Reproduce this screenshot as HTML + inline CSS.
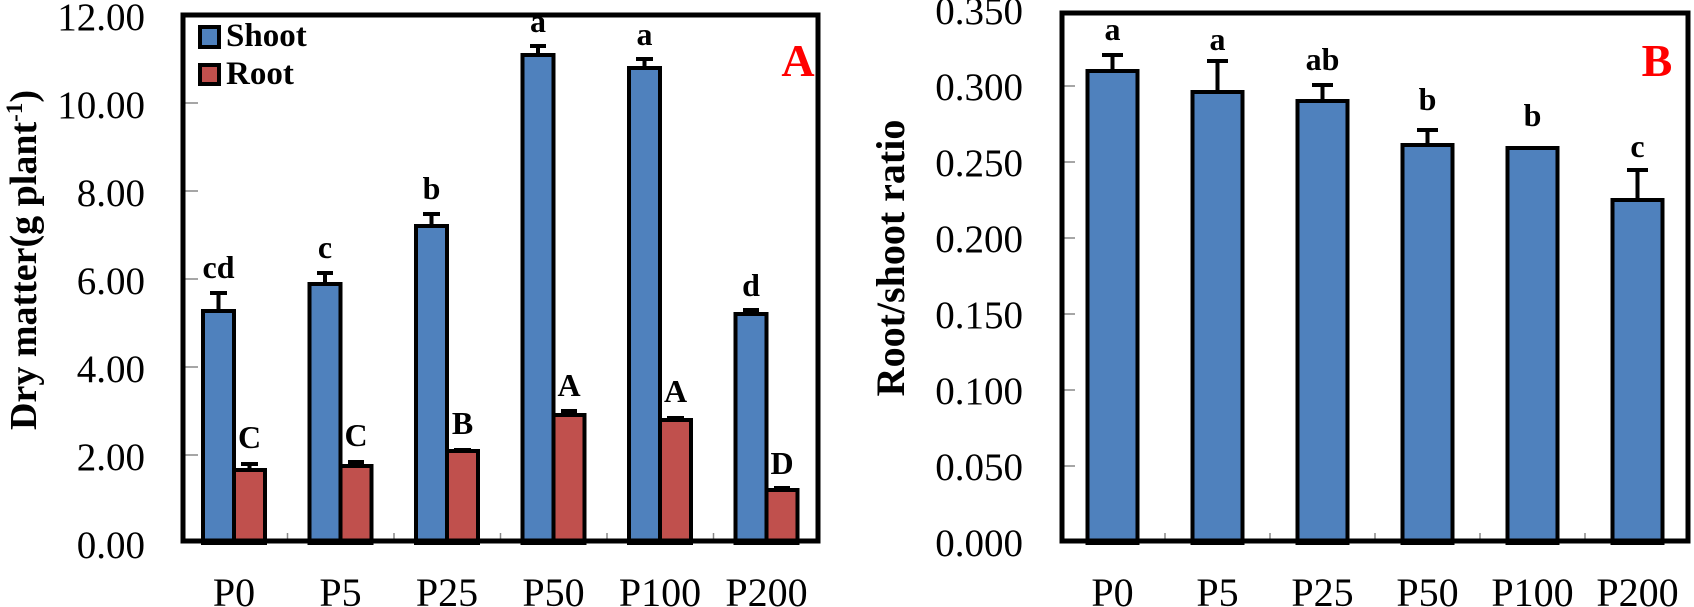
<!DOCTYPE html>
<html><head><meta charset="utf-8"><style>body{margin:0;background:#fff}svg{display:block}</style></head>
<body>
<svg width="1694" height="607" xmlns="http://www.w3.org/2000/svg" font-family="Liberation Serif, serif">
<rect width="1694" height="607" fill="#fff"/>
<g id="A">
<g font-size="39" text-anchor="end">
<text x="145" y="558">0.00</text><text x="145" y="470">2.00</text><text x="145" y="382">4.00</text>
<text x="145" y="294">6.00</text><text x="145" y="206">8.00</text><text x="145" y="118">10.00</text><text x="145" y="30">12.00</text>
</g>
<text transform="translate(36,260) rotate(-90)" text-anchor="middle" font-size="38" font-weight="bold">Dry matter(g plant<tspan dy="-14" font-size="23">-1</tspan><tspan dy="14">)</tspan></text>
<g stroke="#888" stroke-width="1.5">
<line x1="183" y1="455" x2="198" y2="455"/><line x1="183" y1="367" x2="198" y2="367"/><line x1="183" y1="279" x2="198" y2="279"/><line x1="183" y1="191" x2="198" y2="191"/><line x1="183" y1="103" x2="198" y2="103"/>
<line x1="287.5" y1="543" x2="287.5" y2="533"/><line x1="394" y1="543" x2="394" y2="533"/><line x1="500.5" y1="543" x2="500.5" y2="533"/><line x1="607" y1="543" x2="607" y2="533"/><line x1="713.5" y1="543" x2="713.5" y2="533"/>
</g>
<g stroke="#000" stroke-width="4">
<rect x="203" y="311" width="31" height="232" fill="#4f81bd"/>
<rect x="309.5" y="284" width="31" height="259" fill="#4f81bd"/>
<rect x="416" y="226" width="31" height="317" fill="#4f81bd"/>
<rect x="522.5" y="55" width="31" height="488" fill="#4f81bd"/>
<rect x="629" y="68" width="31" height="475" fill="#4f81bd"/>
<rect x="735.5" y="314" width="31" height="229" fill="#4f81bd"/>
<rect x="234" y="470" width="31" height="73" fill="#c0504d"/>
<rect x="340.5" y="466" width="31" height="77" fill="#c0504d"/>
<rect x="447" y="451" width="31" height="92" fill="#c0504d"/>
<rect x="553.5" y="415" width="31" height="128" fill="#c0504d"/>
<rect x="660" y="420" width="31" height="123" fill="#c0504d"/>
<rect x="766.5" y="490" width="31" height="53" fill="#c0504d"/>
<path d="M218.5 311V293M210 293H227 M325 284V273M317 273H333 M431.5 226V214M423 214H440 M538 55V46M530 46H546 M644.5 68V59M636 59H653 M751 314V310M743 310H759
M249.5 470V464M241 464H258 M356 466V462M348 462H364 M462.5 451V450M454 450H471 M569 415V411M561 411H577 M675.5 420V418M667 418H684 M782 490V488M774 488H790" fill="none"/>
</g>
<g font-size="32" font-weight="bold" text-anchor="middle">
<text x="218.5" y="278">cd</text><text x="325" y="258">c</text><text x="431.5" y="199">b</text><text x="538" y="32">a</text><text x="644.5" y="45">a</text><text x="751" y="296">d</text>
<text x="249.5" y="448">C</text><text x="356" y="446">C</text><text x="462.5" y="434">B</text><text x="569" y="396">A</text><text x="675.5" y="402">A</text><text x="782" y="474">D</text>
</g>
<rect x="200" y="27" width="19" height="20" fill="#4f81bd" stroke="#000" stroke-width="4"/>
<rect x="200" y="65" width="19" height="19" fill="#c0504d" stroke="#000" stroke-width="4"/>
<g font-size="33" font-weight="bold"><text x="226" y="46">Shoot</text><text x="226" y="84">Root</text></g>
<text x="798" y="76" font-size="46" font-weight="bold" fill="#ff0000" text-anchor="middle">A</text>
<rect x="183" y="15" width="635" height="526" fill="none" stroke="#000" stroke-width="5"/>
<g font-size="40" text-anchor="middle">
<text x="234" y="606">P0</text><text x="340.5" y="606">P5</text><text x="447" y="606">P25</text><text x="553.5" y="606">P50</text><text x="660" y="606">P100</text><text x="766.5" y="606">P200</text>
</g>
</g>
<g id="B">
<g font-size="39" text-anchor="end">
<text x="1023" y="556">0.000</text><text x="1023" y="480">0.050</text><text x="1023" y="404">0.100</text><text x="1023" y="328">0.150</text>
<text x="1023" y="252">0.200</text><text x="1023" y="176">0.250</text><text x="1023" y="100">0.300</text><text x="1023" y="24">0.350</text>
</g>
<text transform="translate(904,258) rotate(-90)" text-anchor="middle" font-size="40" font-weight="bold">Root/shoot ratio</text>
<g stroke="#888" stroke-width="1.5">
<line x1="1062" y1="466" x2="1075" y2="466"/><line x1="1062" y1="390" x2="1075" y2="390"/><line x1="1062" y1="314" x2="1075" y2="314"/><line x1="1062" y1="238" x2="1075" y2="238"/><line x1="1062" y1="162" x2="1075" y2="162"/><line x1="1062" y1="86" x2="1075" y2="86"/>
<line x1="1165" y1="543" x2="1165" y2="533"/><line x1="1270" y1="543" x2="1270" y2="533"/><line x1="1375" y1="543" x2="1375" y2="533"/><line x1="1480" y1="543" x2="1480" y2="533"/><line x1="1585" y1="543" x2="1585" y2="533"/>
</g>
<g stroke="#000" stroke-width="4" fill="#4f81bd">
<rect x="1087.5" y="71" width="50" height="472"/>
<rect x="1192.5" y="92" width="50" height="451"/>
<rect x="1297.5" y="101" width="50" height="442"/>
<rect x="1402.5" y="145" width="50" height="398"/>
<rect x="1507.5" y="148" width="50" height="395"/>
<rect x="1612.5" y="200" width="50" height="343"/>
<path fill="none" d="M1112.5 71V55M1102 55H1123 M1217.5 92V61M1207 61H1228 M1322.5 101V85M1312 85H1333 M1427.5 145V130M1417 130H1438 M1637.5 200V170M1627 170H1648"/>
</g>
<g font-size="32" font-weight="bold" text-anchor="middle">
<text x="1112.5" y="40">a</text><text x="1217.5" y="50">a</text><text x="1322.5" y="70">ab</text><text x="1427.5" y="110">b</text><text x="1532.5" y="126">b</text><text x="1637.5" y="157">c</text>
</g>
<text x="1657" y="76" font-size="46" font-weight="bold" fill="#ff0000" text-anchor="middle">B</text>
<rect x="1062" y="13" width="626" height="528" fill="none" stroke="#000" stroke-width="5"/>
<g font-size="40" text-anchor="middle">
<text x="1112.5" y="606">P0</text><text x="1217.5" y="606">P5</text><text x="1322.5" y="606">P25</text><text x="1427.5" y="606">P50</text><text x="1532.5" y="606">P100</text><text x="1637.5" y="606">P200</text>
</g>
</g>
</svg>
</body></html>
